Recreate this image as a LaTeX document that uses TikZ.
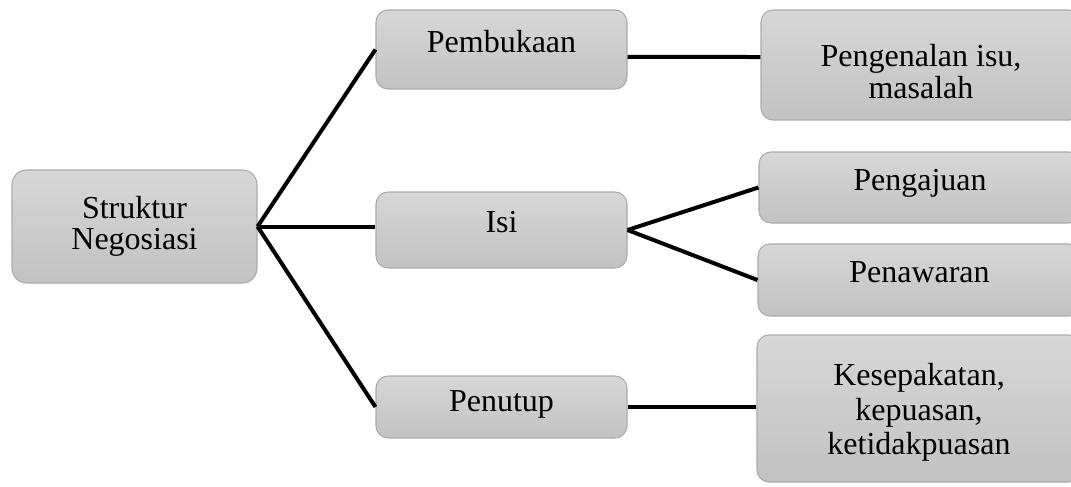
\documentclass[tikz,border=0pt]{standalone}
\usepackage{fontspec}
\setmainfont{Liberation Serif}
\usepackage{xcolor}
\usetikzlibrary{positioning}

\definecolor{boxtop}{HTML}{D7D7D7}
\definecolor{boxbot}{HTML}{C2C2C2}
\definecolor{boxline}{HTML}{ABABAB}

\begin{document}
\begin{tikzpicture}[
  x=0.75pt, y=-0.75pt,
  box/.style={rectangle, rounded corners=9pt, draw=boxline, line width=0.8pt,
    top color=boxtop, bottom color=boxbot, inner sep=0pt,
    font=\fontsize{24}{23}\selectfont, align=center},
  single/.style={box, text height=0.65em, text depth=0.275em},
  link/.style={line width=3pt, black}
]
  \useasboundingbox (0,0) rectangle (1071,486);
  \clip (0,0) rectangle (1071,486);

  \node[box, minimum width=183.75pt, minimum height=84.75pt, rounded corners=11pt]
    (root) at (134.5,226.5) {Struktur\\Negosiasi};

  \node[single, minimum width=188.25pt, minimum height=59.25pt] (buka) at (501.5,49.5) {Pembukaan};
  \node[single, minimum width=188.25pt, minimum height=57pt]    (isi)  at (501.5,230)  {Isi};
  \node[single, minimum width=188.25pt, minimum height=46.5pt,
        text height=0.9em, text depth=0.21em]                   (tutup) at (501.5,407) {Penutup};

  \node[box, minimum width=240pt, minimum height=82.5pt,
        font=\fontsize{24}{24}\selectfont]                      (kenal) at (921,65)
    {\rule{0pt}{1.1em}Pengenalan isu,\\masalah};
  \node[single, minimum width=241.5pt, minimum height=53.25pt] (aju)  at (920,187.5) {Pengajuan};
  \node[single, minimum width=242.25pt, minimum height=54pt]   (tawar) at (919.5,280) {Penawaran};
  \node[box, minimum width=243pt, minimum height=110.25pt,
        font=\fontsize{24}{26}\selectfont]                      (sepakat) at (919,408.5)
    {\rule{0pt}{0.95em}Kesepakatan,\\kepuasan,\\ketidakpuasan};

  \draw[link] (root.east) -- (buka.west);
  \draw[link] (root.east) -- (root.east -| isi.west);
  \draw[link] (root.east) -- (tutup.west);
  \draw[link] ([yshift=-5.6pt]buka.east) -- ([yshift=6pt]kenal.west);
  \draw[link] (isi.east) -- (aju.west);
  \draw[link] (isi.east) -- (tawar.west);
  \draw[link] (tutup.east) -- (tutup.east -| sepakat.west);
\end{tikzpicture}
\end{document}
